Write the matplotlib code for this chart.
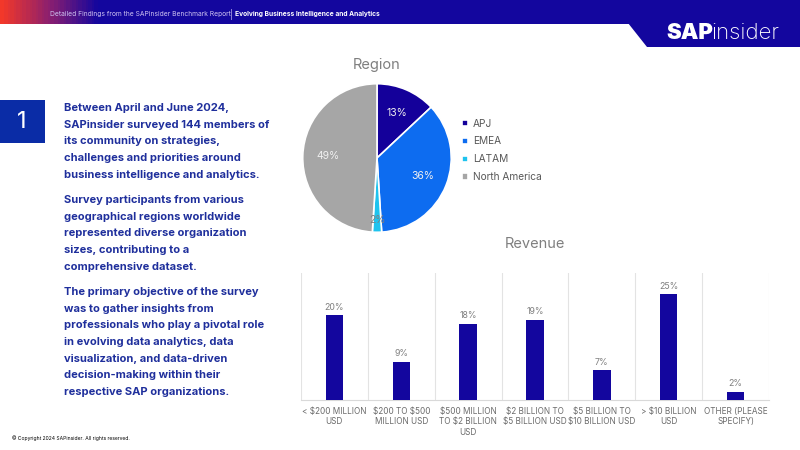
import numpy as np
import matplotlib
matplotlib.use("Agg")
import matplotlib.pyplot as plt
from matplotlib.patches import Polygon, Rectangle
from matplotlib.colors import LinearSegmentedColormap

plt.rcParams["font.family"] = ["Inter", "DejaVu Sans"]

# ---- data ----
region_labels = ["APJ", "EMEA", "LATAM", "North America"]
region_pct = [13, 36, 2, 49]
region_colors = ["#14009a", "#0d6cf0", "#1ec3ee", "#a6a6a6"]

revenue_cats = ["< \\$200 MILLION\nUSD", "\\$200 TO \\$500\nMILLION USD", "\\$500 MILLION\nTO \\$2 BILLION\nUSD",
                "\\$2 BILLION TO\n\\$5 BILLION USD", "\\$5 BILLION TO\n\\$10 BILLION USD", "> \\$10 BILLION\nUSD",
                "OTHER (PLEASE\nSPECIFY)"]
revenue_pct = [20, 9, 18, 19, 7, 25, 2]

para1 = ["Between April and June 2024,", "SAPinsider surveyed 144 members of",
         "its community on strategies,", "challenges and priorities around",
         "business intelligence and analytics."]
para2 = ["Survey participants from various", "geographical regions worldwide",
         "represented diverse organization", "sizes, contributing to a", "comprehensive dataset."]
para3 = ["The primary objective of the survey", "was to gather insights from",
         "professionals who play a pivotal role", "in evolving data analytics, data",
         "visualization, and data-driven", "decision-making within their",
         "respective SAP organizations."]

W, H = 800, 450
NAVY = "#13069e"
TEXT_BLUE = "#1f2f9c"
GRAY = "#7f7f7f"


def fx(x):
    return x / W


def fy(y):
    return 1 - y / H


def box(x0, y0, x1, y1):
    return [fx(x0), fy(y1), (x1 - x0) / W, (y1 - y0) / H]


fig = plt.figure(figsize=(8, 4.5), dpi=100)

# ---- header band ----
hax = fig.add_axes([0, 0, 1, 1])
hax.set_xlim(0, W); hax.set_ylim(H, 0); hax.axis("off")
cmap = LinearSegmentedColormap.from_list("hdr", [(0, "#f2382a"), (0.06, "#8a1f70"), (0.12, NAVY), (1, NAVY)])
grad = np.linspace(0, 1, 400)[None, :]
hax.imshow(grad, cmap=cmap, extent=(0, W, 24, 0), aspect="auto", zorder=1)
hax.add_patch(Polygon([(628, 23), (800, 23), (800, 47), (647, 47)], closed=True, color=NAVY, lw=0, zorder=2))
hax.add_patch(Rectangle((0, 100), 45, 43, color="#0a2ca6", lw=0, zorder=2))
hax.text(22, 122, "1", color="white", fontsize=17, ha="center", va="center", zorder=3)

fig.text(fx(50), fy(14), "Detailed Findings from the SAPinsider Benchmark Report", color="#cfc3f2",
         fontsize=4.8, va="center")
fig.text(fx(230), fy(14), "|", color="#cfc3f2", fontsize=6, va="center")
fig.text(fx(235), fy(14), "Evolving Business Intelligence and Analytics", color="white",
         fontsize=4.8, fontweight="bold", va="center")
fig.text(fx(666), fy(33), "SAP", color="white", fontsize=16, fontweight="black", va="center")
fig.text(fx(711), fy(33), "insider", color="white", fontsize=16, fontweight="light", va="center")

# ---- left paragraphs ----
for start, lines in ((108, para1), (200, para2), (292, para3)):
    for i, line in enumerate(lines):
        fig.text(fx(64), fy(start + i * 16.7), line, color=TEXT_BLUE, fontsize=8,
                 fontweight="bold", va="center")

fig.text(fx(12), fy(438), "\u00a9 Copyright 2024 SAPinsider. All rights reserved.", color="black",
         fontsize=3.6, va="center")

# ---- Region pie ----
pax = fig.add_axes(box(377 - 75, 158 - 75, 377 + 75, 158 + 75))
wedges, _, autotexts = pax.pie(region_pct, colors=region_colors, startangle=90, counterclock=False,
                               autopct="%d%%", pctdistance=0.66,
                               wedgeprops=dict(edgecolor="white", linewidth=1.2),
                               textprops=dict(color="#f0f0f0", fontsize=7.5))
autotexts[2].set_position((0.0, -0.83))
autotexts[2].set_color("#808080")
pax.set_aspect("equal")
pax.set_xlim(-1.01, 1.01); pax.set_ylim(-1.01, 1.01)
fig.text(fx(377), fy(65), "Region", color=GRAY, fontsize=10.5, ha="center", va="center")
pax.legend(wedges, region_labels, loc="upper left", bbox_to_anchor=(1.04, 0.79), frameon=False,
           fontsize=7.3, labelcolor="#595959", handlelength=0.6, handleheight=0.6,
           handletextpad=0.5, labelspacing=0.78, borderaxespad=0)

# ---- Revenue bars ----
bax = fig.add_axes(box(301, 273, 769, 400))
x = np.arange(len(revenue_pct))
bars = bax.bar(x, revenue_pct, width=0.26, color=NAVY, zorder=3)
for xi, v in zip(x, revenue_pct):
    bax.annotate(f"{v}%", (xi, v), xytext=(0, 2.5), textcoords="offset points", ha="center",
                 va="bottom", fontsize=6.3, color=GRAY)
bax.set_xlim(-0.5, len(x) - 0.5)
bax.set_ylim(0, 30)
bax.set_yticks([])
bax.set_xticks(x)
bax.set_xticklabels(revenue_cats, fontsize=5.9, color="#6b6b6b", linespacing=1.2)
bax.tick_params(axis="x", length=0, pad=5)
bax.set_xticks(np.arange(-0.5, len(x)), minor=True)
bax.tick_params(axis="x", which="minor", length=0)
bax.grid(True, axis="x", which="minor", color="#e3e3e3", lw=0.8, zorder=0)
for s in ("top", "right", "left"):
    bax.spines[s].set_visible(False)
bax.spines["bottom"].set_color("#d9d9d9")
fig.text(fx(535), fy(244), "Revenue", color=GRAY, fontsize=10.5, ha="center", va="center")

fig.savefig("out.png", dpi=100)
